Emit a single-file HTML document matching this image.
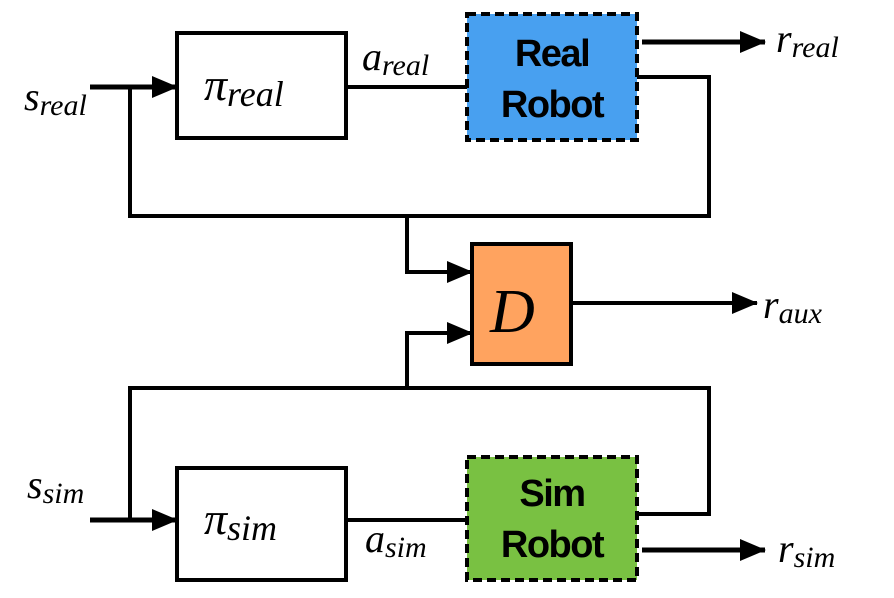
<!DOCTYPE html>
<html><head><style>
body{margin:0;background:#fff}
svg text{font-family:"Liberation Serif",serif;font-style:italic}
.b{font-family:"Liberation Sans",sans-serif;font-style:normal;font-weight:bold;font-size:38px;letter-spacing:-1.5px}
</style></head><body>
<svg width="894" height="593" viewBox="0 0 894 593" xmlns="http://www.w3.org/2000/svg">
<defs>
<marker id="A" markerWidth="26" markerHeight="22" refX="25" refY="11" orient="auto" markerUnits="userSpaceOnUse" viewBox="0 0 26 22"><path d="M0,0 L26,11 L0,22z" fill="#000"/></marker></defs>
<g stroke="#000" stroke-width="4" fill="none">
<rect x="177" y="33" width="169" height="105" fill="#fff"/>
<rect x="467" y="14" width="170" height="126" fill="#48a0f0" stroke-dasharray="9,5"/>
<rect x="472" y="244" width="99" height="120" fill="#ffa35f"/>
<rect x="177" y="468" width="169" height="112" fill="#fff"/>
<rect x="467" y="457" width="170" height="123" fill="#79c142" stroke-dasharray="9,5"/>
<path d="M90,87 H177" marker-end="url(#A)" stroke-width="5"/>
<path d="M346,87 H467"/>
<path d="M642,42 H765" marker-end="url(#A)" stroke-width="5"/>
<path d="M637,77 H709 V216 H130 V87"/>
<path d="M407,216 V272 H472" marker-end="url(#A)"/>
<path d="M571,303 H757" marker-end="url(#A)"/>
<path d="M130,520 V388 H709 V514 H637"/>
<path d="M407,388 V333 H472" marker-end="url(#A)"/>
<path d="M90,520 H177" marker-end="url(#A)" stroke-width="5"/>
<path d="M346,520 H467"/>
<path d="M642,550 H765" marker-end="url(#A)" stroke-width="5"/>
</g>
<text x="204" y="100" font-size="46" font-style="normal">π<tspan font-size="36" font-style="italic" dy="6">real</tspan></text>
<text x="362" y="70" font-size="40">a<tspan font-size="30" dy="5">real</tspan></text>
<text x="552" y="66" class="b" text-anchor="middle">Real</text>
<text x="552" y="117" class="b" text-anchor="middle">Robot</text>
<text x="776" y="52" font-size="40">r<tspan font-size="30" dy="5">real</tspan></text>
<text x="24" y="110" font-size="40">s<tspan font-size="30" dy="5">real</tspan></text>
<text x="490" y="332" font-size="62">D</text>
<text x="763" y="318" font-size="40">r<tspan font-size="30" dy="5">aux</tspan></text>
<text x="27" y="498" font-size="40">s<tspan font-size="30" dy="5">sim</tspan></text>
<text x="204" y="534" font-size="46" font-style="normal">π<tspan font-size="36" font-style="italic" dy="6">sim</tspan></text>
<text x="365" y="552" font-size="40">a<tspan font-size="30" dy="5">sim</tspan></text>
<text x="552" y="506" class="b" text-anchor="middle">Sim</text>
<text x="552" y="557" class="b" text-anchor="middle">Robot</text>
<text x="778" y="562" font-size="40">r<tspan font-size="30" dy="5">sim</tspan></text>
</svg>
</body></html>
